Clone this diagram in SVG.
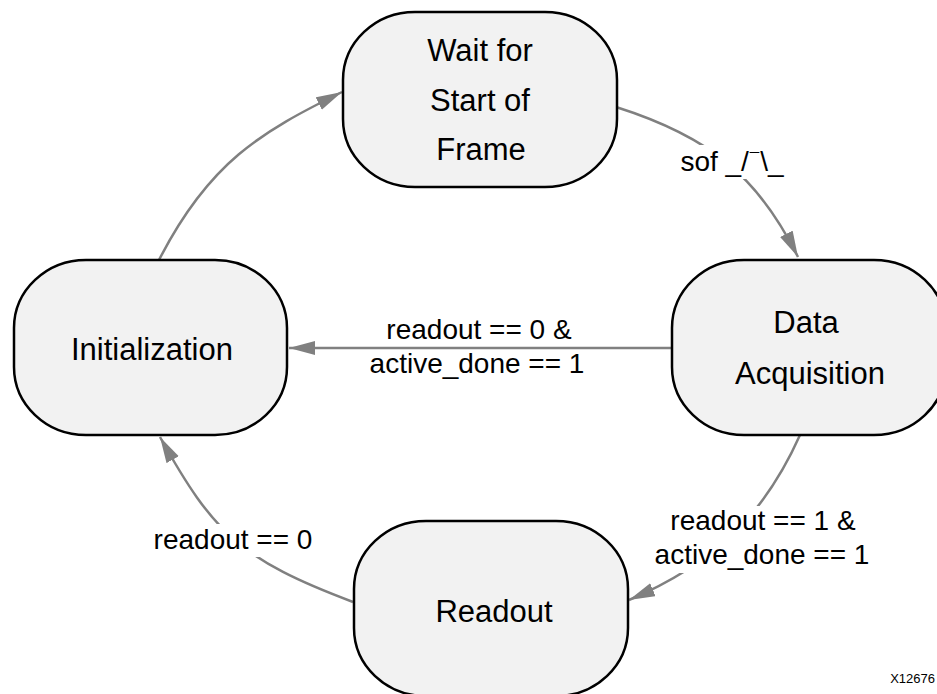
<svg xmlns="http://www.w3.org/2000/svg" width="937" height="694" viewBox="0 0 937 694">
<style>
.node{fill:#f2f2f2;stroke:#000;stroke-width:2.5}
.nt{font-family:"Liberation Sans",Arial,Helvetica,sans-serif;font-size:31px;fill:#000;text-anchor:middle}
.lt{font-family:"Liberation Sans",Arial,Helvetica,sans-serif;font-size:28px;fill:#000;text-anchor:middle}
.edge{fill:none;stroke:#808080;stroke-width:2.5}
.bg{fill:#fff}
</style>
<defs>
<marker id="arr" markerUnits="userSpaceOnUse" markerWidth="28" markerHeight="16" refX="26" refY="7" orient="auto">
<path d="M0,0 L26,7 L0,14 z" fill="#808080"/>
</marker>
</defs>
<rect width="937" height="694" fill="#fff"/>
<g id="connectors">
<path class="edge" d="M616,107 C711,137 758,177 798,257" marker-end="url(#arr)"/>
<path class="edge" d="M671,348 L289,348" marker-end="url(#arr)"/>
<path class="edge" d="M159,260 C209,162 261,132 342,92" marker-end="url(#arr)"/>
<path class="edge" d="M353,602 C240.7,559.9 213.5,533.1 160,437" marker-end="url(#arr)"/>
<path class="edge" d="M800,435 C763.3,517.2 711.8,564.7 629,600" marker-end="url(#arr)"/>
</g>
<g id="labels">
<rect class="bg" x="674" y="145" width="118" height="34"/>
<text class="lt" x="732" y="171">sof _/<tspan font-size="17" dy="-6" dx="1">¯</tspan><tspan dy="6" dx="1">\_</tspan></text>
<text class="lt" x="479" y="339">readout == 0 &amp;</text>
<text class="lt" x="477" y="373">active_done == 1</text>
<rect class="bg" x="150" y="524" width="166" height="33"/>
<text class="lt" x="233" y="549">readout == 0</text>
<rect class="bg" x="652" y="506" width="220" height="67"/>
<text class="lt" x="763" y="530">readout == 1 &amp;</text>
<text class="lt" x="762" y="564">active_done == 1</text>
</g>
<g id="wait">
<rect class="node" x="343" y="12" width="274" height="175" rx="72" ry="68"/>
<text class="nt" x="480" y="61">Wait for</text>
<text class="nt" x="480" y="111">Start of</text>
<text class="nt" x="481" y="160">Frame</text>
</g>
<g id="init">
<rect class="node" x="14" y="260" width="273" height="175" rx="72" ry="68"/>
<text class="nt" x="152" y="360">Initialization</text>
</g>
<g id="acq">
<rect class="node" x="672" y="260" width="274" height="175" rx="72" ry="68"/>
<text class="nt" x="806" y="333">Data</text>
<text class="nt" x="810" y="384">Acquisition</text>
</g>
<g id="readout">
<rect class="node" x="354" y="521" width="274" height="175" rx="72" ry="68"/>
<text class="nt" x="494" y="622">Readout</text>
</g>
<text x="935" y="683" font-family="Liberation Sans,Arial,sans-serif" font-size="13" text-anchor="end" fill="#000">X12676</text>
</svg>
